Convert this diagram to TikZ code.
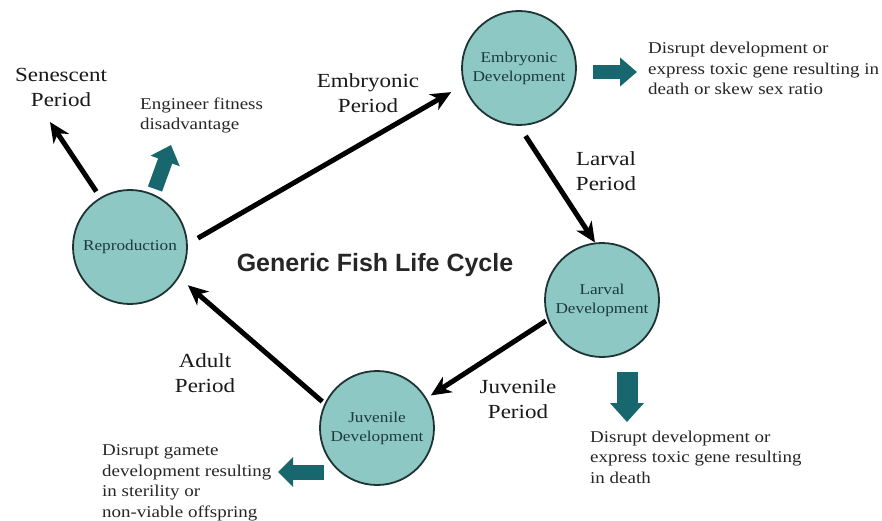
\documentclass[tikz,border=0pt]{standalone}
\usepackage{fontspec}
\setmainfont{Liberation Serif}[FakeStretch=1.15]
\newfontfamily\titlefont{Liberation Sans}
\usetikzlibrary{arrows.meta}
\definecolor{cfill}{HTML}{8DC8C4}
\definecolor{cline}{HTML}{1E3434}
\definecolor{tealA}{HTML}{19676E}
\definecolor{ctext}{HTML}{1C3A3E}
\begin{document}
\begin{tikzpicture}[x=1pt,y=-1pt,
  stage/.style={circle, draw=cline, line width=1.8pt, fill=cfill, minimum size=114pt, inner sep=0pt, align=center, text=ctext, font=\fontsize{15}{19}\selectfont},
  period/.style={align=center, inner sep=0pt, font=\fontsize{20}{25}\selectfont, text=black!90},
  note/.style={align=left, inner sep=0pt, font=\fontsize{16.5}{20.5}\selectfont, text=black!85},
  flow/.style={line width=5pt, -{Stealth[length=20pt,width=18pt,inset=6pt]}},
  block/.style n args={3}{draw=tealA, line width=#1, -{Triangle[width=#2,length=#3]}},
]
\useasboundingbox[fill=white] (0,0) rectangle (882,521);

% stages
\node[stage] (repro) at (130,247) {Reproduction};
\node[stage] (embryo) at (519,68) {Embryonic\\Development};
\node[stage] (larval) at (602,300) {Larval\\Development};
\node[stage] (juvenile) at (377,428) {Juvenile\\Development};

% title
\node[anchor=base, inner sep=0pt, font=\titlefont\bfseries\fontsize{25}{29}\selectfont, text=black!85] (title) at (375,271) {Generic Fish Life Cycle};

% period labels (base = last line)
\node[period, anchor=base] (senescent) at (61,107) {Senescent\\Period};
\node[period, anchor=base] (embper) at (368,113) {Embryonic\\Period};
\node[period, anchor=base] (larper) at (606,191) {Larval\\Period};
\node[period, anchor=base] (juvper) at (518,418) {Juvenile\\Period};
\node[period, anchor=base] (adper) at (205,392) {Adult\\Period};

% notes (base = last line)
\node[note, anchor=base west] (engnote) at (140,130) {Engineer fitness\\disadvantage};
\node[note, anchor=base west] (embnote) at (648,95) {Disrupt development or\\express toxic gene resulting in\\death or skew sex ratio};
\node[note, anchor=base west] (larnote) at (590,483) {Disrupt development or\\express toxic gene resulting\\in death};
\node[note, anchor=base west] (juvnote) at (102,517) {Disrupt gamete\\development resulting\\in sterility or\\non-viable offspring};

% cycle connectors
\draw[flow, shorten <=11.6pt, shorten >=14.4pt] (repro.3) -- (embryo.197);
\draw[flow, shorten <=12pt] (embryo.270) -- (larval.97);
\draw[flow, shorten <=2pt, shorten >=5pt] (larval.200) -- (juvenile.31);
\draw[flow, shorten <=3pt, shorten >=11.6pt] (juvenile.155) -- (repro.328);
\coordinate (senTip) at (50,122);
\draw[flow, shorten <=7pt] (repro.121) -- (senTip);

% intervention block arrows
\coordinate (engBase) at (155,189);
\coordinate (engTip) at (171,145);
\coordinate (embBase) at (593,72);
\coordinate (embTip) at (637,72);
\coordinate (larBase) at (627,372);
\coordinate (larTip) at (627,422);
\coordinate (juvBase) at (324,472);
\coordinate (juvTip) at (278,472);
\draw[block={15pt}{30pt}{17pt}] (engBase) -- (engTip);
\draw[block={14pt}{28pt}{17pt}] (embBase) -- (embTip);
\draw[block={21pt}{33pt}{19pt}] (larBase) -- (larTip);
\draw[block={15pt}{29pt}{15pt}] (juvBase) -- (juvTip);
\end{tikzpicture}
\end{document}
